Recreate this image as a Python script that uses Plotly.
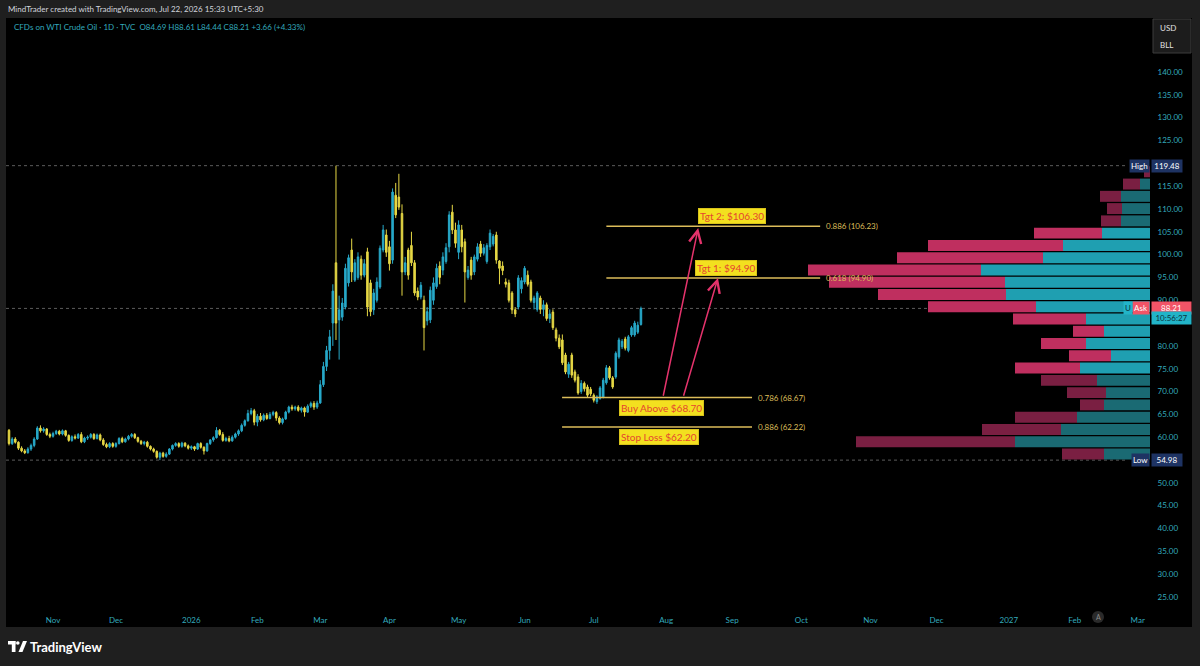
import plotly.graph_objects as go
import pandas as pd

# ---------------- DATA ----------------
dates = pd.bdate_range("2025-10-14", "2026-07-22").strftime("%Y-%m-%d").tolist()

opens = [61.5, 58.6, 59.6, 58.9, 57.6, 57.0, 56.6, 57.4, 58.2, 59.6, 62.0, 61.4, 61.8, 60.6,
         60.2, 60.8, 61.3, 60.7, 61.4, 60.4, 59.3, 60.1, 59.8, 60.6, 59.0, 59.8, 60.0, 60.6,
         59.7, 60.5, 59.4, 58.4, 57.9, 58.6, 58.0, 58.6, 59.7, 59.0, 59.6, 60.2, 60.6, 59.9,
         59.1, 58.6, 58.9, 58.0, 57.4, 56.9, 55.6, 56.5, 55.8, 56.3, 57.4, 58.2, 58.6, 58.0,
         58.7, 58.1, 57.6, 57.9, 57.4, 58.6, 57.8, 57.0, 58.6, 59.4, 59.9, 61.5, 60.6, 59.3,
         59.7, 59.2, 60.0, 60.7, 61.4, 62.6, 63.6, 65.2, 65.8, 63.3, 64.6, 63.8, 64.8, 64.1,
         65.0, 65.4, 64.2, 63.2, 64.0, 65.5, 66.6, 66.2, 66.6, 65.9, 66.4, 65.5, 66.8, 67.4,
         66.6, 67.5, 71.5, 75.5, 79.0, 85.0, 98.2, 85.7, 86.3, 88.5, 93.8, 101.0, 94.4, 95.0,
         99.0, 95.5, 100.6, 93.8, 87.9, 90.0, 92.9, 101.0, 104.3, 101.7, 98.8, 113.0, 112.6, 109.0,
         96.2, 101.0, 102.0, 98.2, 92.0, 90.7, 90.0, 85.5, 85.7, 90.0, 93.0, 97.5, 96.6, 98.5,
         101.7, 109.3, 105.4, 100.5, 105.4, 102.8, 95.0, 98.8, 96.2, 99.0, 102.3, 100.3, 98.5, 101.7,
         102.3, 104.3, 98.6, 97.5, 94.0, 93.8, 91.6, 87.9, 88.5, 92.5, 94.0, 95.5, 94.0, 89.5,
         88.0, 90.5, 88.0, 89.0, 86.0, 87.4, 83.5, 81.7, 81.3, 78.0, 73.8, 78.0, 74.3, 73.2,
         70.0, 71.8, 71.0, 70.5, 69.2, 67.8, 68.5, 68.8, 71.9, 75.2, 73.0, 73.2, 77.6, 79.8,
         81.5, 79.0, 82.4, 82.4, 83.0, 84.69]
highs = [61.8, 60.0, 60.0, 59.1, 58.0, 57.4, 57.8, 58.6, 60.0, 62.4, 62.6, 62.2, 62.0, 61.0,
         61.2, 61.6, 61.6, 61.7, 61.6, 60.6, 60.4, 60.6, 60.9, 61.1, 60.1, 60.4, 60.9, 60.9,
         60.8, 60.8, 59.8, 58.8, 58.9, 58.9, 58.9, 60.0, 60.1, 59.9, 60.5, 60.9, 60.9, 60.1,
         59.4, 59.2, 59.2, 58.2, 57.7, 57.1, 56.8, 56.8, 56.7, 57.6, 58.4, 58.9, 58.9, 59.0,
         58.9, 58.4, 58.2, 58.1, 58.8, 58.9, 58.0, 58.8, 59.6, 60.2, 62.2, 61.8, 61.1, 60.1,
         60.3, 60.4, 61.0, 61.7, 63.0, 63.9, 66.0, 66.4, 66.2, 65.1, 65.3, 65.2, 65.3, 65.5,
         65.8, 65.7, 64.6, 64.3, 65.8, 66.9, 67.1, 66.9, 67.0, 66.7, 66.7, 67.2, 67.8, 67.9,
         68.0, 72.5, 76.5, 80.0, 83.5, 93.5, 119.48, 91.0, 90.5, 98.0, 100.0, 103.5, 99.0, 100.5,
         99.8, 99.0, 101.5, 94.5, 92.5, 95.0, 102.0, 106.5, 105.5, 103.0, 114.5, 115.7, 117.7, 111.0,
         99.5, 101.5, 105.0, 98.8, 92.8, 94.0, 91.0, 88.5, 93.0, 95.0, 98.0, 98.5, 100.5, 102.5,
         109.5, 110.9, 107.0, 107.5, 106.5, 103.5, 97.5, 99.5, 100.0, 102.5, 103.0, 102.3, 102.5, 105.5,
         104.5, 105.0, 98.8, 98.5, 94.8, 94.5, 92.0, 88.5, 95.5, 95.0, 97.5, 96.5, 94.5, 91.0,
         92.0, 91.0, 90.0, 89.5, 88.0, 88.0, 84.0, 82.5, 82.5, 78.5, 76.5, 78.5, 74.8, 73.8,
         72.5, 72.2, 71.5, 71.0, 69.6, 69.2, 71.2, 73.0, 75.8, 75.6, 73.4, 78.8, 81.8, 81.5,
         82.0, 82.4, 84.4, 85.5, 85.3, 88.61]
lows = [58.2, 58.3, 58.6, 57.2, 56.7, 56.3, 56.4, 57.0, 57.8, 59.4, 61.0, 61.0, 60.3, 59.8,
        59.9, 60.5, 60.4, 60.4, 60.1, 59.0, 59.0, 59.5, 59.6, 58.7, 58.7, 59.4, 59.7, 59.4,
        59.5, 59.1, 58.1, 57.6, 57.6, 57.7, 57.7, 58.4, 58.7, 58.8, 59.3, 59.9, 59.6, 58.8,
        58.3, 58.2, 57.7, 57.1, 56.6, 55.3, 54.98, 55.5, 55.5, 56.1, 57.1, 57.9, 57.7, 57.7,
        57.8, 57.3, 57.2, 57.0, 57.2, 57.5, 56.2, 56.8, 58.3, 59.0, 59.7, 60.3, 59.0, 59.0,
        58.9, 59.0, 59.7, 60.3, 61.1, 62.3, 63.4, 64.8, 62.6, 62.4, 63.4, 63.5, 63.8, 63.9,
        64.6, 63.6, 62.8, 62.8, 63.8, 65.2, 65.8, 65.8, 65.6, 65.4, 64.5, 65.3, 66.4, 66.0,
        66.2, 67.3, 71.0, 74.5, 77.0, 80.0, 81.3, 77.0, 85.5, 88.0, 93.0, 94.0, 94.0, 94.5,
        94.5, 95.0, 86.5, 86.5, 86.8, 89.5, 92.5, 100.5, 99.5, 96.5, 98.0, 108.0, 109.8, 91.0,
        95.5, 94.5, 97.5, 91.0, 90.0, 90.2, 79.0, 84.5, 85.0, 89.0, 92.5, 93.5, 95.5, 98.0,
        100.5, 104.5, 101.5, 99.0, 100.5, 89.5, 94.5, 94.5, 95.5, 98.5, 99.5, 99.8, 98.0, 101.0,
        101.8, 98.0, 93.5, 95.5, 92.8, 89.5, 87.0, 86.3, 88.0, 91.5, 93.5, 93.0, 89.5, 88.0,
        87.5, 87.0, 86.5, 85.5, 85.0, 83.5, 81.0, 79.3, 75.8, 73.8, 73.0, 73.0, 72.0, 69.3,
        69.5, 70.0, 68.8, 69.0, 67.6, 67.3, 68.2, 68.5, 71.5, 72.6, 70.6, 72.8, 77.2, 79.3,
        79.0, 78.6, 82.0, 82.0, 82.6, 84.44]
closes = [58.6, 59.6, 58.9, 57.6, 57.0, 56.6, 57.4, 58.2, 59.6, 62.0, 61.4, 61.8, 60.6, 60.2,
          60.8, 61.3, 60.7, 61.4, 60.4, 59.3, 60.1, 59.8, 60.6, 59.0, 59.8, 60.0, 60.6, 59.7,
          60.5, 59.4, 58.4, 57.9, 58.6, 58.0, 58.6, 59.7, 59.0, 59.6, 60.2, 60.6, 59.9, 59.1,
          58.6, 58.9, 58.0, 57.4, 56.9, 55.6, 56.5, 55.8, 56.3, 57.4, 58.2, 58.6, 58.0, 58.7,
          58.1, 57.6, 57.9, 57.4, 58.6, 57.8, 57.0, 58.6, 59.4, 59.9, 61.5, 60.6, 59.3, 59.7,
          59.2, 60.0, 60.7, 61.4, 62.6, 63.6, 65.2, 65.8, 63.3, 64.6, 63.8, 64.8, 64.1, 65.0,
          65.4, 64.2, 63.2, 64.0, 65.5, 66.6, 66.2, 66.6, 65.9, 66.4, 65.5, 66.8, 67.4, 66.6,
          67.5, 71.5, 75.5, 79.0, 82.0, 92.0, 85.0, 87.9, 89.4, 97.0, 99.3, 96.2, 98.2, 99.5,
          95.5, 98.0, 88.5, 87.5, 91.6, 94.0, 101.4, 105.4, 100.5, 98.0, 113.7, 108.7, 110.4, 96.2,
          98.2, 95.5, 98.2, 91.6, 90.7, 93.3, 84.0, 87.5, 92.2, 93.8, 97.0, 95.0, 99.5, 101.5,
          108.7, 105.4, 102.5, 106.5, 101.7, 96.2, 96.6, 95.5, 99.5, 101.7, 100.3, 101.5, 102.0, 104.7,
          104.0, 98.8, 97.0, 96.5, 93.5, 90.0, 87.9, 87.0, 94.9, 94.3, 97.0, 93.5, 90.0, 90.5,
          91.6, 88.0, 89.0, 86.0, 87.0, 84.0, 81.7, 79.8, 76.3, 74.3, 76.0, 73.6, 72.5, 69.7,
          71.8, 70.6, 69.2, 69.5, 68.1, 68.8, 70.8, 72.5, 75.2, 73.0, 71.0, 78.4, 81.3, 81.0,
          79.5, 82.0, 84.0, 85.0, 84.55, 88.21]

# Volume profile (visible range), rows from low to high
vp_rows = [56.32, 59.01, 61.70, 64.39, 67.08, 69.76, 72.45, 75.14, 77.83, 80.51, 83.20, 85.89,
           88.58, 91.26, 93.95, 96.64, 99.33, 102.01, 104.70, 107.39, 110.08, 112.76, 115.45, 118.14]
vp_up = [46, 135, 89, 73, 46, 44, 53, 70, 39, 64, 46, 64,
         114, 144, 145, 169, 107, 87, 48, 29, 28, 29, 10, 0]
vp_down = [42, 159, 79, 62, 24, 39, 56, 65, 42, 45, 31, 73,
           108, 128, 176, 173, 146, 135, 68, 20, 15, 21, 17, 6]
va_low, va_high = 73.79, 106.04

x_tick_dates = ["2025-11-03", "2025-12-01", "2026-01-02", "2026-02-02", "2026-03-02", "2026-04-01",
                "2026-05-01", "2026-06-01", "2026-07-01", "2026-08-03", "2026-09-01", "2026-10-01",
                "2026-11-02", "2026-12-01", "2027-01-01", "2027-02-01", "2027-03-01"]
x_tick_labels = ["Nov", "Dec", "2026", "Feb", "Mar", "Apr", "May", "Jun", "Jul", "Aug", "Sep", "Oct",
                 "Nov", "Dec", "2027", "Feb", "Mar"]
# 85.00 and 120.00 sit under the last-price / High labels in the reference
y_ticks = [25, 30, 35, 40, 45, 50, 55, 60, 65, 70, 75, 80, 90, 95, 100, 105, 110, 115,
           125, 130, 135, 140]

hi_price, lo_price, last_price = 119.48, 54.98, 88.21
fib_levels = [106.23, 94.90, 68.67, 62.22]
fib_labels = ["0.886 (106.23)", "0.618 (94.90)", "0.786 (68.67)", "0.886 (62.22)"]

# ---------------- STYLE ----------------
TEAL_TXT = "#33aabd"
UP = "#27a9c9"
DOWN = "#e6d845"
GOLD = "#dcbd5a"
ARROW = "#e5336c"
FONT = "Lato"

def px(X):
    return (X - 6) / 1144.0

def py(Y):
    return (605 - Y) / 587.0

fig = go.Figure()

# volume profile
up_cols = ["#1f9fb1" if va_low <= p <= va_high else "#1a6a73" for p in vp_rows]
dn_cols = ["#bf2f5f" if va_low <= p <= va_high else "#7a1f42" for p in vp_rows]
fig.add_trace(go.Bar(y=vp_rows, x=vp_up, base=[0] * len(vp_up), orientation="h",
                     marker=dict(color=up_cols, line=dict(width=0)), width=2.4,
                     xaxis="x2", yaxis="y", hoverinfo="skip"))
fig.add_trace(go.Bar(y=vp_rows, x=vp_down, base=vp_up, orientation="h",
                     marker=dict(color=dn_cols, line=dict(width=0)), width=2.4,
                     xaxis="x2", yaxis="y", hoverinfo="skip"))

fig.add_trace(go.Candlestick(
    x=dates, open=opens, high=highs, low=lows, close=closes,
    increasing=dict(line=dict(color=UP, width=1), fillcolor=UP),
    decreasing=dict(line=dict(color=DOWN, width=1), fillcolor=DOWN),
    whiskerwidth=0, xaxis="x", yaxis="y"))

shapes = []
# chart black background
shapes.append(dict(type="rect", xref="paper", yref="paper", x0=px(6), x1=px(1192), y0=py(627), y1=py(18),
                   fillcolor="#000000", line=dict(width=0), layer="below"))
# dotted lines (below the marks)
for p in [hi_price, lo_price, last_price]:
    shapes.append(dict(type="line", xref="paper", yref="y", x0=0, x1=px(1126), y0=p, y1=p,
                       line=dict(color="#5c5c5c", width=1, dash="dot"), layer="below"))
# fib lines
fib_x0 = ["2026-07-07", "2026-07-07", "2026-06-16 22:00", "2026-06-16 22:00"]
fib_x1 = ["2026-10-09", "2026-10-09", "2026-09-09 08:00", "2026-09-09 08:00"]
for p, a, b in zip(fib_levels, fib_x0, fib_x1):
    shapes.append(dict(type="line", xref="x", yref="y", x0=a, x1=b, y0=p, y1=p,
                       line=dict(color=GOLD, width=1.5)))
# USD/BLL box
shapes.append(dict(type="rect", xref="paper", yref="paper", x0=px(1153), x1=px(1191), y0=py(53), y1=py(19),
                   fillcolor="#1c1c1c", line=dict(color="#3c3c3c", width=1)))
# "A" circle
shapes.append(dict(type="circle", xref="paper", yref="paper", x0=px(1092), x1=px(1104), y0=py(623), y1=py(611),
                   fillcolor="#2a2a2a", line=dict(width=0)))
# TradingView logo glyph
shapes.append(dict(type="rect", xref="paper", yref="paper", x0=px(8), x1=px(15.5), y0=py(644.5), y1=py(641),
                   fillcolor="#ffffff", line=dict(width=0)))
shapes.append(dict(type="rect", xref="paper", yref="paper", x0=px(11.8), x1=px(15.5), y0=py(652), y1=py(641),
                   fillcolor="#ffffff", line=dict(width=0)))
shapes.append(dict(type="circle", xref="paper", yref="paper", x0=px(16), x1=px(19.6), y0=py(644.8), y1=py(641.2),
                   fillcolor="#ffffff", line=dict(width=0)))
shapes.append(dict(type="path", xref="paper", yref="paper",
                   path="M %f,%f L %f,%f L %f,%f L %f,%f Z" % (px(18.5), py(652), px(22.5), py(652),
                                                               px(27), py(641), px(23), py(641)),
                   fillcolor="#ffffff", line=dict(width=0)))

ann = []
# header texts
ann.append(dict(xref="paper", yref="paper", x=px(6), y=py(9), xanchor="left", yanchor="middle",
                text="MindTrader created with TradingView.com, Jul 22, 2026 15:33 UTC+5:30",
                showarrow=False, font=dict(family=FONT, size=8, color="#d1d4dc")))
ann.append(dict(xref="paper", yref="paper", x=px(12), y=py(27), xanchor="left", yanchor="middle",
                text="CFDs on WTI Crude Oil · 1D · TVC  O84.69 H88.61 L84.44 C88.21 +3.66 (+4.33%)",
                showarrow=False, font=dict(family=FONT, size=8, color=TEAL_TXT)))
# fib labels
for p, t, b in zip(fib_levels, fib_labels, fib_x1):
    ann.append(dict(xref="x", yref="y", x=b, y=p, xanchor="left", yanchor="middle", xshift=4,
                    text=t, showarrow=False, font=dict(family=FONT, size=8, color=GOLD)))
# yellow labels
box_specs = [("Tgt 2: $106.30", "2026-09-01 02:00", 106.23, "bottom", 2),
             ("Tgt 1: $94.90", "2026-08-28 04:00", 94.90, "bottom", 2),
             ("Buy Above $68.70", "2026-07-30 10:00", 68.67, "top", -2),
             ("Stop Loss $62.20", "2026-07-29 20:00", 62.22, "top", -2)]
for t, xd, p, ya, ys in box_specs:
    ann.append(dict(xref="x", yref="y", x=xd, y=p, xanchor="center", yanchor=ya, yshift=ys,
                    text=t, showarrow=False, bgcolor="#f3e01f", bordercolor="#d8c31a", borderwidth=1,
                    borderpad=1, font=dict(family=FONT, size=10, color="#e5452f")))
# arrows
arrow_specs = [("2026-08-17 05:00", 105.8, "2026-07-31", 68.75),
               ("2026-08-25 12:00", 94.9, "2026-08-10 10:00", 68.75)]
for hx, hy, tx, ty in arrow_specs:
    ann.append(dict(xref="x", yref="y", x=hx, y=hy, axref="x", ayref="y", ax=tx, ay=ty, text="",
                    showarrow=True, arrowhead=5, arrowsize=1.6, arrowwidth=1.5, arrowcolor=ARROW))
# right-side price labels
NAVY = "#1e3363"
ann.append(dict(xref="paper", yref="y", x=px(1150), y=hi_price, xanchor="right", yanchor="middle",
                text="High", showarrow=False, bgcolor=NAVY, borderpad=1,
                font=dict(family=FONT, size=8, color="#ffffff")))
ann.append(dict(xref="paper", yref="y", x=px(1151), y=hi_price, xanchor="left", yanchor="middle",
                text="119.48", showarrow=False, bgcolor=NAVY, borderpad=1, width=28,
                font=dict(family=FONT, size=8, color="#ffffff")))
ann.append(dict(xref="paper", yref="y", x=px(1150), y=lo_price, xanchor="right", yanchor="middle",
                text="Low", showarrow=False, bgcolor=NAVY, borderpad=1,
                font=dict(family=FONT, size=8, color="#ffffff")))
ann.append(dict(xref="paper", yref="y", x=px(1151), y=lo_price, xanchor="left", yanchor="middle",
                text="54.98", showarrow=False, bgcolor=NAVY, borderpad=1, width=28,
                font=dict(family=FONT, size=8, color="#ffffff")))
RED = "#f25467"
ann.append(dict(xref="paper", yref="y", x=px(1151), y=last_price, xanchor="left", yanchor="middle",
                text="88.21", showarrow=False, bgcolor=RED, borderpad=1, width=37,
                font=dict(family=FONT, size=8, color="#ffffff")))
ann.append(dict(xref="paper", yref="y", x=px(1151), y=last_price, xanchor="left", yanchor="middle",
                yshift=-10, text="10:56:27", showarrow=False, bgcolor="#22b4c8", borderpad=1, width=37,
                font=dict(family=FONT, size=8, color="#0b3340")))
ann.append(dict(xref="paper", yref="y", x=px(1150), y=last_price, xanchor="right", yanchor="middle",
                text="Ask", showarrow=False, bgcolor=RED, borderpad=1,
                font=dict(family=FONT, size=8, color="#ffffff")))
ann.append(dict(xref="paper", yref="y", x=px(1133), y=last_price, xanchor="right", yanchor="middle",
                text="U", showarrow=False, bgcolor="#22b4c8", borderpad=1,
                font=dict(family=FONT, size=8, color="#0b3340")))
# USD / BLL
ann.append(dict(xref="paper", yref="paper", x=px(1158), y=py(28), xanchor="left", yanchor="middle",
                text="USD", showarrow=False, font=dict(family=FONT, size=8, color="#e0e0e0")))
ann.append(dict(xref="paper", yref="paper", x=px(1158), y=py(45), xanchor="left", yanchor="middle",
                text="BLL", showarrow=False, font=dict(family=FONT, size=8, color="#e0e0e0")))
ann.append(dict(xref="paper", yref="paper", x=px(1098), y=py(617), xanchor="center", yanchor="middle",
                text="A", showarrow=False, font=dict(family=FONT, size=7, color="#8a8a8a")))
# logo text
ann.append(dict(xref="paper", yref="paper", x=px(28), y=py(646.5), xanchor="left", yanchor="middle",
                text="<b>TradingView</b>", showarrow=False, font=dict(family="Lato", size=13, color="#ffffff")))

fig.update_layout(
    width=1200, height=666,
    margin=dict(l=6, r=50, t=18, b=61),
    paper_bgcolor="#1f1f1f", plot_bgcolor="#000000",
    showlegend=False, barmode="overlay",
    xaxis=dict(type="date", range=["2025-10-13 01:00", "2027-03-04 22:00"],
               rangebreaks=[dict(bounds=["sat", "mon"])],
               tickmode="array", tickvals=x_tick_dates, ticktext=x_tick_labels,
               showgrid=False, zeroline=False, showline=False,
               ticks="outside", ticklen=7, tickcolor="rgba(0,0,0,0)",
               tickfont=dict(family=FONT, size=8, color=TEAL_TXT),
               rangeslider=dict(visible=False)),
    yaxis=dict(side="right", range=[23.24, 151.83], tickmode="array", tickvals=y_ticks,
               ticktext=["%.2f" % v for v in y_ticks],
               showgrid=False, zeroline=False, showline=False,
               ticks="outside", ticklen=5, tickcolor="rgba(0,0,0,0)",
               tickfont=dict(family=FONT, size=8, color=TEAL_TXT)),
    xaxis2=dict(overlaying="x", range=[1144, 0], visible=False, anchor="y"),
    shapes=shapes, annotations=ann,
)

fig.write_html("out.html")
